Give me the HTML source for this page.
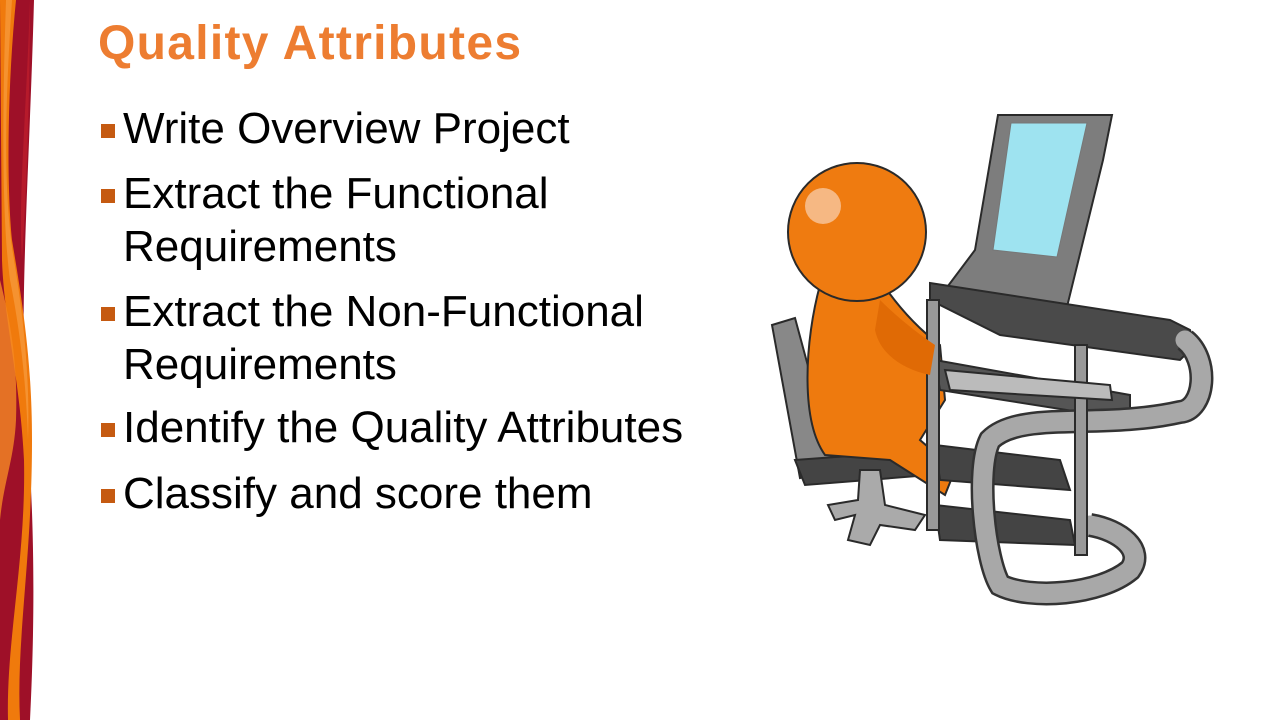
<!DOCTYPE html>
<html><head><meta charset="utf-8"><style>
body{margin:0;width:1280px;height:720px;background:#fff;overflow:hidden;position:relative;font-family:"Liberation Sans",sans-serif}
.t{position:absolute;left:98px;top:16px;font-size:48px;font-weight:bold;color:#ED7D31;margin:0;letter-spacing:1.3px}
.b{position:absolute;left:123px;font-size:44px;color:#000;line-height:53px;white-space:nowrap}
.b:before{content:"";position:absolute;left:-22px;top:22px;width:14px;height:14px;background:#C55A11}
</style></head><body>
<svg style="position:absolute;left:0;top:0" width="40" height="720">
<path d="M0 0 H34 C30 150 20 300 25 380 C30 470 38 560 30 720 H0 Z" fill="#9E1028"/>
<path d="M0 0 H16 C8 80 6 180 12 240 C22 300 32 360 32 440 C32 560 16 640 20 720 H8 C6 640 26 560 24 460 C20 380 4 320 2 260 Z" fill="#F07A0C"/>
<path d="M6 0 H12 C4 120 4 200 14 260 C24 320 30 380 28 440 C26 380 20 330 10 280 C2 220 2 120 6 0 Z" fill="#F59230"/>
<path d="M0 280 C10 320 18 360 16 420 C14 460 4 480 0 520 Z" fill="#F58A24" opacity=".8"/>
<path d="M18 0 H30 C26 120 18 200 22 260 C26 200 30 100 30 0 Z" fill="#C0202C" opacity=".7"/>
</svg>
<h1 class="t">Quality Attributes</h1>
<div class="b" style="top:102px">Write Overview Project</div>
<div class="b" style="top:167px">Extract the Functional<br>Requirements</div>
<div class="b" style="top:285px">Extract the Non-Functional<br>Requirements</div>
<div class="b" style="top:401px">Identify the Quality Attributes</div>
<div class="b" style="top:467px">Classify and score them</div>
<svg style="position:absolute;left:0;top:0" width="1280" height="720">
<g stroke="#2a2a2a" stroke-width="2">
<path d="M772 325 L795 318 L828 440 L835 470 L800 478 Z" fill="#888"/>
<path d="M795 460 L930 450 L930 475 L805 485 Z" fill="#444"/>
<path d="M860 470 L880 470 L885 505 L925 515 L915 530 L880 525 L870 545 L848 540 L855 515 L835 520 L828 505 L858 500 Z" fill="#aaa"/>
<path d="M820 285 L880 280 C900 310 920 330 940 345 L945 400 L920 440 L955 470 L945 495 L890 460 L825 455 C800 420 805 340 820 285 Z" fill="#EE7A0E"/>
<circle cx="857" cy="232" r="69" fill="#EF7B10"/>
<path d="M998 115 L1112 115 L1103 160 L1065 315 L945 290 L975 250 Z" fill="#7d7d7d"/>
<path d="M930 283 L1170 320 L1190 330 L1195 345 L1180 360 L1000 335 L930 300 Z" fill="#4a4a4a"/>
<path d="M935 360 L1130 395 L1130 420 L940 390 Z" fill="#555"/>
<path d="M935 445 L1060 460 L1070 490 L940 480 Z" fill="#444"/>
<path d="M935 505 L1070 520 L1075 545 L940 540 Z" fill="#444"/>
<path d="M1185 340 C1210 360 1205 410 1180 412 C1100 430 1020 410 990 440 C975 470 985 560 1000 585 C1030 600 1100 595 1130 570 C1145 550 1120 530 1090 525" fill="none" stroke="#333" stroke-width="24"/>
<path d="M1185 340 C1210 360 1205 410 1180 412 C1100 430 1020 410 990 440 C975 470 985 560 1000 585 C1030 600 1100 595 1130 570 C1145 550 1120 530 1090 525" fill="none" stroke="#a8a8a8" stroke-width="19" stroke-linecap="round"/>
<rect x="927" y="300" width="12" height="230" fill="#999"/>
<rect x="1075" y="345" width="12" height="210" fill="#999"/>
<path d="M945 370 L1110 385 L1112 400 L950 390 Z" fill="#bbb"/>
</g>
<path d="M1011 123 L1087 123 L1057 257 L993 250 Z" fill="#9EE3F0" stroke="#777" stroke-width="1"/>
<circle cx="823" cy="206" r="18" fill="#F8C8A0" opacity=".8"/>
<path d="M880 300 C900 320 920 335 935 345 L930 375 C905 370 880 355 875 330 Z" fill="#E06A05"/>
</svg>
</body></html>
